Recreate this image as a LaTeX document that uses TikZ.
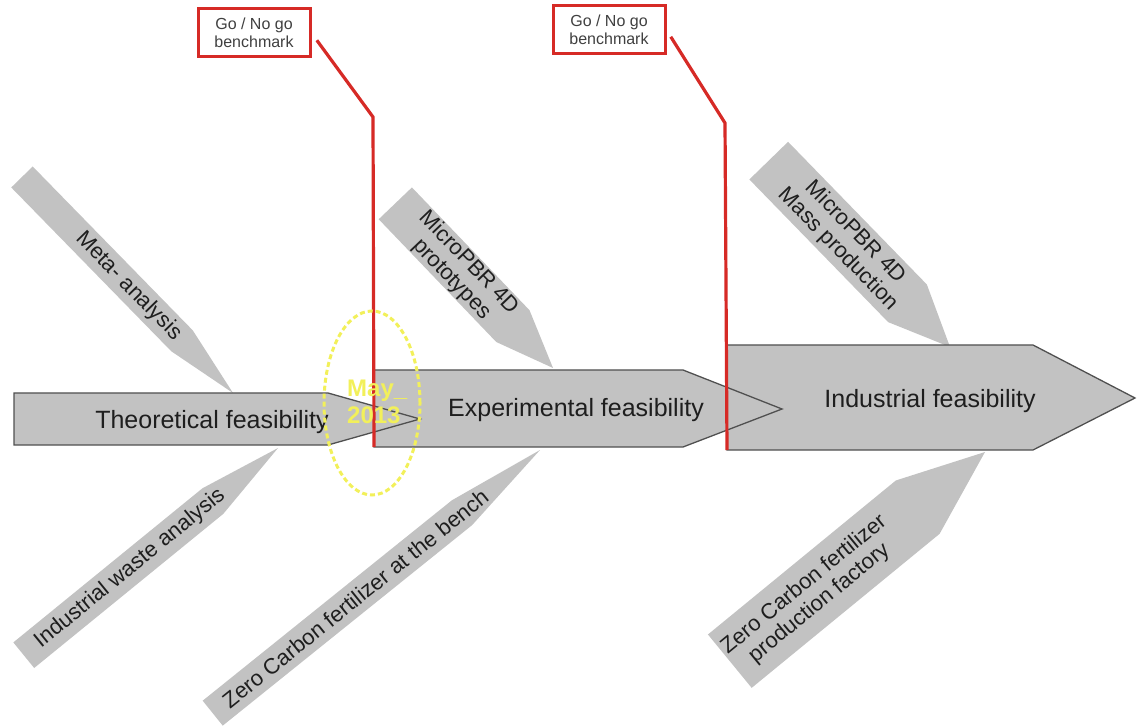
\documentclass[tikz,border=0pt]{standalone}
\usepackage{fontspec}
\setmainfont{Liberation Sans}
\usetikzlibrary{calc}
\definecolor{boneg}{RGB}{194,194,194}
\definecolor{edgeg}{RGB}{80,80,80}
\definecolor{gored}{RGB}{214,42,38}
\definecolor{mayyel}{RGB}{242,240,90}
\definecolor{txt}{RGB}{30,30,30}
\tikzset{
  arrowshape/.style={fill=boneg, draw=edgeg, line width=1.3pt, line join=miter},
  maintext/.style={text=txt, inner sep=0pt, font=\fontsize{25}{30}\selectfont},
  bonetext/.style={text=txt, inner sep=0pt, align=center, font=\fontsize{22}{24}\selectfont},
  gobox/.style={draw=gored, line width=3pt, fill=white, text=txt!85, minimum width=112pt, minimum height=48pt, inner sep=0pt, align=center, font=\fontsize{16}{18}\selectfont},
  redline/.style={draw=gored, line width=3.2pt, line join=miter},
  yelring/.style={draw=mayyel, line width=3pt, dash pattern=on 5pt off 3pt},
  maytext/.style={text=mayyel, inner sep=0pt, font=\bfseries\fontsize{24}{27}\selectfont}
}
% name, tipx, tipy, angle, length, width, taper, text distance, text
\newcommand\fishbone[9]{%
  \begin{scope}[shift={(#2,#3)}, rotate=#4]
    \fill[boneg] (0,0) -- (-#7,#6/2) -- (-#5,#6/2) -- (-#5,-#6/2) -- (-#7,-#6/2) -- cycle;
    \node[bonetext, rotate=#4] (#1) at (-#8,0) {#9};
  \end{scope}}
\begin{document}
\begin{tikzpicture}[x=1pt, y=1pt]
\useasboundingbox (0,0) rectangle (1139,726);
% bones
\fishbone{meta}{233}{333}{-45.67}{302}{30}{73}{149}{Meta- analysis}
\fishbone{waste}{278}{278}{39.18}{328}{33}{84}{191}{Industrial waste analysis}
\fishbone{proto}{553}{358}{-46.24}{228}{46}{58}{134}{MicroPBR 4D\\prototypes}
\fishbone{bench}{540}{276}{38.8}{420}{32}{100}{237}{Zero Carbon fertilizer at the bench}
\fishbone{mass}{950}{379}{-45.79}{260}{54}{61}{148}{MicroPBR 4D\\Mass production}
\fishbone{factory}{985}{274}{39.34}{330}{69}{87}{224}{Zero Carbon fertilizer\\production factory}
% main arrows
\path[arrowshape] (727,381) -- (1033,381) -- (1135,328) -- (1033,276) -- (727,276) -- cycle;
\path[arrowshape] (374,356) -- (683,356) -- (782,317) -- (683,279) -- (374,279) -- cycle;
\path[arrowshape] (14,333) -- (328,333) -- (420,307) -- (328,281) -- (14,281) -- cycle;
\coordinate (expBL) at (374,279);
\coordinate (indBL) at (727,276);
\node[maintext, anchor=base] (theo) at (212,298) {Theoretical feasibility};
\node[maintext, anchor=base] (expe) at (576,309) {Experimental feasibility};
\node[maintext, anchor=base] (indu) at (930,319) {Industrial feasibility};
% go / no go benchmarks
\node[gobox] (g1) at (254,693) {Go / No go\\benchmark};
\node[gobox] (g2) at (609,696) {Go / No go\\benchmark};
\coordinate (k1) at (373,609);
\coordinate (k2) at (725,603);
\draw[redline, shorten <=9pt] (g1.east) -- (k1) -- (expBL);
\draw[redline, shorten <=8pt] (g2.east) -- (k2) -- (indBL);
% May 2013 marker
\draw[yelring] (372,323) ellipse [x radius=48pt, y radius=92pt];
\node[maytext, anchor=base west] (may1) at (347,329) {May\_};
\node[maytext, anchor=base west] (may2) at (347,303) {2013};
\end{tikzpicture}
\end{document}
